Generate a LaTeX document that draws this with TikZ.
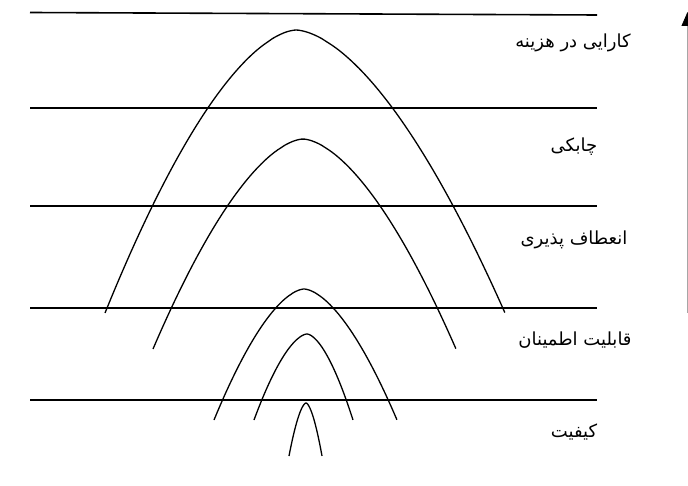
\documentclass[tikz,border=0pt]{standalone}
\usepackage{fontspec}
\newfontfamily\arabicfont[Script=Arabic]{DejaVu Sans}
\TeXXeTstate=1
\usetikzlibrary{arrows.meta}
\tikzset{
  level/.style={line width=1.6pt, black},
  arch/.style={line width=1.3pt, black},
  lbl/.style={font=\arabicfont\fontsize{18}{21}\selectfont, anchor=center, inner sep=0pt},
  axis/.style={line width=0.8pt, gray!70, -{Triangle[length=14pt,width=12pt,color=black,fill=black]}}
}
% \archcurve{cx}{ypeak}{WL}{WR}{ybase}
\newcommand{\archcurve}[5]{%
  \draw[arch] plot[domain=-1:1, samples=90, smooth, variable=\t]
    ({#1 + (\t<0 ? #3 : #4)*\t}, {#2 + (#5-#2)*pow(abs(\t),1.6667)});%
}
\begin{document}
\begin{tikzpicture}[x=1pt, y=-1pt]
\useasboundingbox (0,0) rectangle (688,486);
\begin{scope}
\clip (0,0) rectangle (688,486);
% levels
\coordinate (l1a) at (30,12.5); \coordinate (l1b) at (597,15);
\coordinate (l2a) at (30,108);  \coordinate (l2b) at (597,108);
\coordinate (l3a) at (30,206);  \coordinate (l3b) at (597,206);
\coordinate (l4a) at (30,308);  \coordinate (l4b) at (597,308);
\coordinate (l5a) at (30,400);  \coordinate (l5b) at (597,400);
\draw[level] (l1a) -- (l1b);
\draw[level] (l2a) -- (l2b);
\draw[level] (l3a) -- (l3b);
\draw[level] (l4a) -- (l4b);
\draw[level] (l5a) -- (l5b);
% arches
\archcurve{296}{30}{191}{209}{313}
\archcurve{303}{139}{150}{153}{349}
\archcurve{304}{289}{90}{93}{420}
\archcurve{307}{334}{53}{46}{420}
\archcurve{306}{403}{17}{16}{456}
% axis
\coordinate (ax0) at (687.5,313);
\coordinate (ax1) at (687.5,12);
\draw[axis] (ax0) -- (ax1);
\end{scope}
% labels
\node[lbl] (t1) at (573,43) {\beginR کارایی در هزینه\endR};
\node[lbl] (t2) at (574,147) {\beginR چابکی\endR};
\node[lbl] (t3) at (574,240) {\beginR انعطاف پذیری\endR};
\node[lbl] (t4) at (575,340) {\beginR قابلیت اطمینان\endR};
\node[lbl] (t5) at (574,432) {\beginR کیفیت\endR};
\end{tikzpicture}
\end{document}
